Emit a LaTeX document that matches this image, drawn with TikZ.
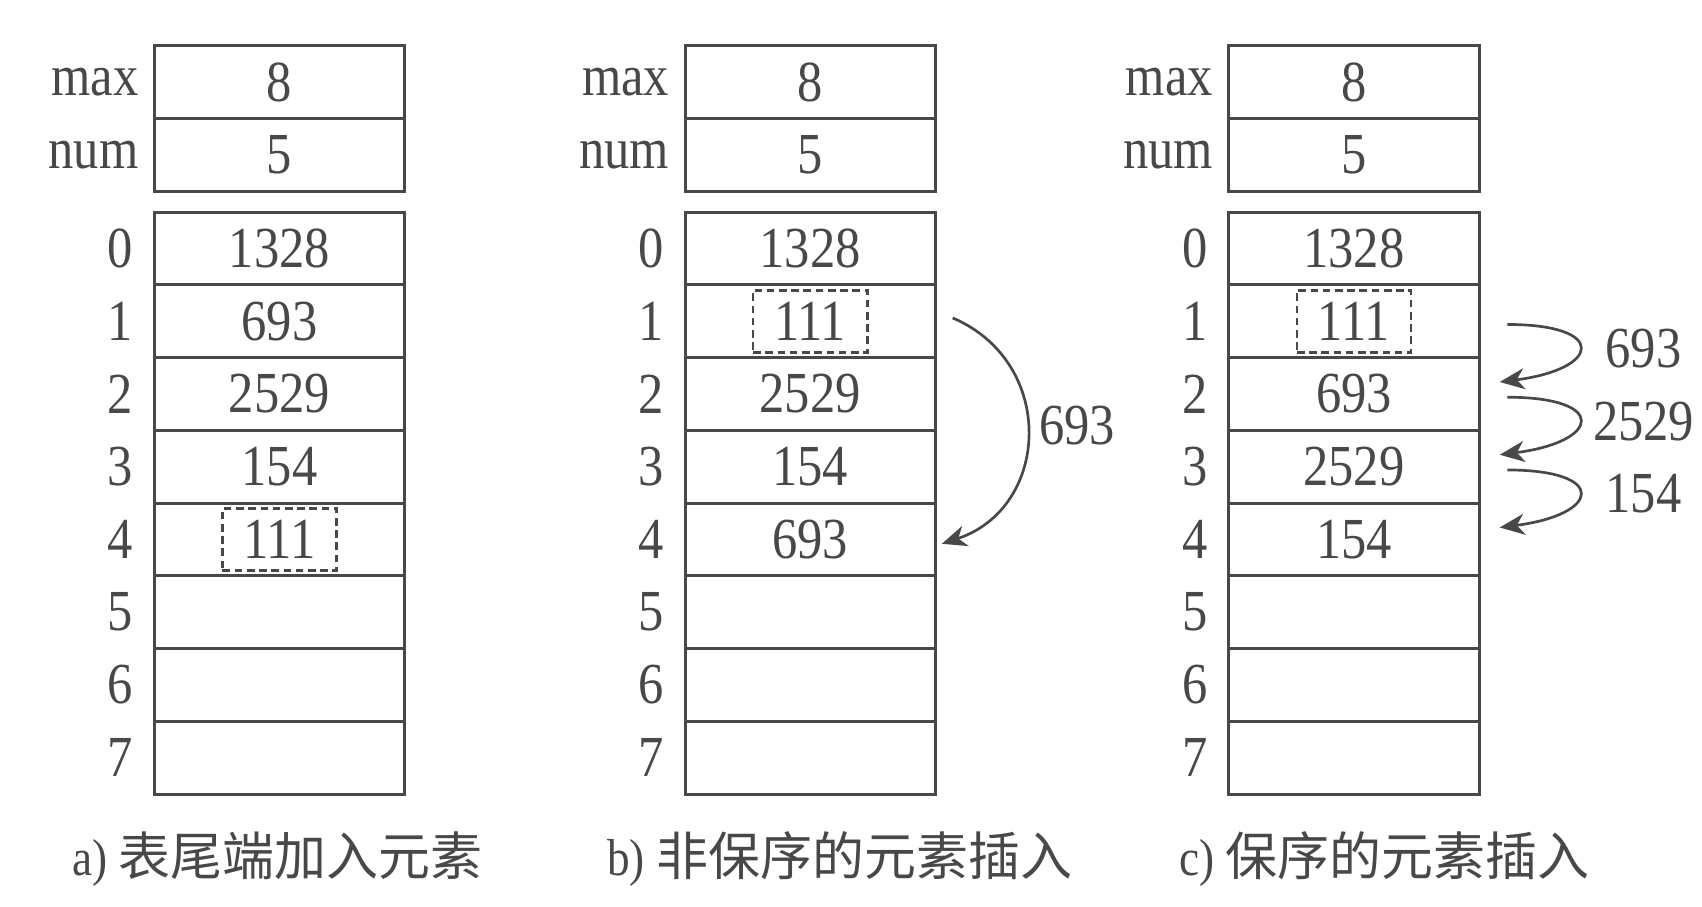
\documentclass[tikz,border=0pt]{standalone}
\usepackage{fontspec}
\setmainfont{Liberation Serif}[FakeStretch=0.87]
\newfontfamily\cjk{Noto Sans CJK SC}
\usetikzlibrary{calc,positioning,arrows.meta}
\definecolor{ink}{RGB}{72,72,72}
\tikzset{
  cell/.style={draw=ink, line width=0.8pt, minimum width=23mm, minimum height=6.69mm,
    inner sep=0pt, outer sep=0pt, anchor=north west},
  newbox/.style={draw=ink, dash pattern=on 2pt off 1.2pt, line width=0.7pt,
    minimum width=10.5mm, minimum height=5.7mm, inner sep=0pt},
  tag/.style={inner sep=0pt},
  move/.style={draw=ink, line width=0.7pt, -{Stealth[length=6.5pt,width=5.5pt,inset=2pt]}},
  caption/.style={font=\fontsize{13.6}{18}\selectfont},
}
\newcommand{\drawtable}[3] {
  \node[cell] (#1max) at (#2,42) {8};  % header cells
  \node[cell] (#1num) at (#2,108.9) {5};
  \node[tag, left=1.4mm of #1max] (#1maxtag) {max};
  \node[tag, left=1.4mm of #1num] (#1numtag) {num};
  \foreach \i/\v in #3 {
    \node[cell] (#1\i) at (#2,{195+66.9*\i}) {\v};
    \node[tag, left=1.9mm of #1\i] (#1idx\i) {\i};
  }
}

\begin{document}
\begin{tikzpicture}[x=0.1mm, y=-0.1mm, color=ink, font=\fontsize{15.2}{18}\selectfont]
    \useasboundingbox (0,0) rectangle (1565,834);
    \drawtable{a}{142}{{0/1328,1/693,2/2529,3/154,4/{},5/{},6/{},7/{}}}
    \drawtable{b}{630}{{0/1328,1/{},2/2529,3/154,4/693,5/{},6/{},7/{}}}
    \drawtable{c}{1130}{{0/1328,1/{},2/693,3/2529,4/154,5/{},6/{},7/{}}}
    \node[newbox] (anew) at (a4) {111};
    \node[newbox] (bnew) at (b1) {111};
    \node[newbox] (cnew) at (c1) {111};
    % b) one long move
    \draw[move] ($(b1.east)+(16,-3)$) .. controls +(96,41) and +(100,-33) .. ($(b4.east)+(6,4)$)
      node[pos=0.5, xshift=4.6mm, yshift=0.76mm] (bmove) {693};
    % c) shift down one by one
    \foreach \i/\j/\v in {1/2/693,2/3/2529,3/4/154} {
      \draw[move] ($(c\i.east)+(26,3)$) .. controls +(93,0) and +(93,-12) .. ($(c\j.east)+(19,-11)$)
        node[pos=0.5, xshift=5.9mm] (cmove\i) {\v};
    }
    \node[caption] (acap) at (255,790) {a) \cjk 表尾端加入元素};
    \node[caption] (bcap) at (772,790) {b) \cjk 非保序的元素插入};
    \node[caption] (ccap) at (1273,790) {c) \cjk 保序的元素插入};
  \end{tikzpicture}
\end{document}
